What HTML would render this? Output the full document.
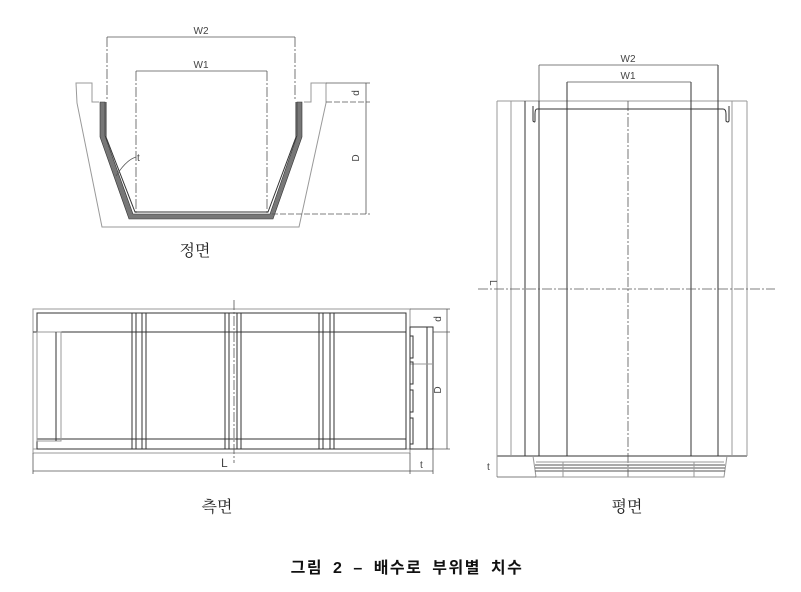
<!DOCTYPE html>
<html><head><meta charset="utf-8"><style>
html,body{margin:0;padding:0;background:#fff;}
svg{display:block;}
text{font-family:"Liberation Sans","Noto Sans CJK KR",sans-serif;}
.k{stroke:#333;stroke-width:1;fill:none;}
.g{stroke:#999;stroke-width:1;fill:none;}
.dd{stroke:#555;stroke-width:0.8;fill:none;stroke-dasharray:10 2 2 2;}
.dim{stroke:#555;stroke-width:0.8;fill:none;}
.lbl{font-size:10px;fill:#444;}
.ser{font-family:"Liberation Serif","Noto Serif CJK SC",serif;font-size:16px;fill:#222;}
</style></head><body>
<svg width="801" height="592" viewBox="0 0 801 592" xmlns="http://www.w3.org/2000/svg">
<!-- FRONT VIEW -->
<path class="g" d="M99,102 L92,102 L92,83 L76,83 L77,103 L102,227 L299,227 L326,103 L326,83 L311,83 L311,102 L304,102"/>
<path d="M100,102 L100,137 L129,219 L273,219 L302,137 L302,102 L297,102 L297,136 L270,214 L133,214 L105,136 L105,102 Z" fill="#777" stroke="#333" stroke-width="0.6"/>
<path class="k" d="M106,102 L106,137 L135,212 L268,212 L296,137 L296,102" stroke-width="0.6"/>
<!-- dims front -->
<line class="dim" x1="107" y1="37" x2="295" y2="37"/>
<line class="dd" x1="107" y1="37" x2="107" y2="100"/>
<line class="dd" x1="295" y1="37" x2="295" y2="100"/>
<text class="lbl" x="201" y="34" text-anchor="middle">W2</text>
<line class="dim" x1="136" y1="71" x2="267" y2="71"/>
<line class="dd" x1="136" y1="71" x2="136" y2="214"/>
<line class="dd" x1="267" y1="71" x2="267" y2="214"/>
<text class="lbl" x="201" y="68" text-anchor="middle">W1</text>
<line class="dim" x1="326" y1="83" x2="370" y2="83"/>
<line class="dim" x1="326" y1="102" x2="370" y2="102" stroke-dasharray="6 2"/>
<line class="dim" x1="272" y1="214" x2="370" y2="214" stroke-dasharray="6 2"/>
<line class="dim" x1="366" y1="83" x2="366" y2="214"/>
<text class="lbl" transform="translate(359,93) rotate(-90)" text-anchor="middle">d</text>
<text class="lbl" transform="translate(359,158) rotate(-90)" text-anchor="middle">D</text>
<path class="dim" d="M116,176 Q126,160 136,157"/>
<text class="lbl" x="137" y="161">t</text>
<text class="ser" x="195" y="256" text-anchor="middle">정면</text>

<!-- SIDE VIEW -->
<rect class="g" x="33" y="309" width="377" height="144"/>
<line class="g" x1="33" y1="449" x2="410" y2="449"/>
<rect class="k" x="37" y="313" width="369" height="136"/>
<line class="k" x1="33" y1="332" x2="406" y2="332"/>
<line class="k" x1="37" y1="439" x2="406" y2="439"/>
<rect class="g" x="37" y="332" width="24" height="109"/>
<line class="k" x1="56" y1="332" x2="56" y2="441"/>
<g class="k">
<line x1="132" y1="313" x2="132" y2="449"/><line x1="136" y1="313" x2="136" y2="449"/>
<line x1="142" y1="313" x2="142" y2="449"/><line x1="146" y1="313" x2="146" y2="449"/>
<line x1="225" y1="313" x2="225" y2="449"/><line x1="229" y1="313" x2="229" y2="449"/>
<line x1="237" y1="313" x2="237" y2="449"/><line x1="241" y1="313" x2="241" y2="449"/>
<line x1="319" y1="313" x2="319" y2="449"/><line x1="323" y1="313" x2="323" y2="449"/>
<line x1="330" y1="313" x2="330" y2="449"/><line x1="334" y1="313" x2="334" y2="449"/>
</g>
<line class="dd" x1="234" y1="300" x2="234" y2="463" stroke="#333"/>
<rect class="k" x="410" y="327" width="23" height="122"/>
<line class="k" x1="427" y1="327" x2="427" y2="449"/>
<line class="g" x1="410" y1="364" x2="433" y2="364"/>
<g class="k"><rect x="410" y="336" width="3" height="22"/><rect x="410" y="362" width="3" height="22"/><rect x="410" y="390" width="3" height="22"/><rect x="410" y="418" width="3" height="26"/></g>
<line class="dim" x1="410" y1="309" x2="450" y2="309"/>
<line class="dim" x1="433" y1="332" x2="450" y2="332"/>
<line class="dim" x1="433" y1="449" x2="450" y2="449"/>
<line class="dim" x1="447" y1="309" x2="447" y2="449"/>
<text class="lbl" transform="translate(441,319) rotate(-90)" text-anchor="middle">d</text>
<text class="lbl" transform="translate(441,390) rotate(-90)" text-anchor="middle">D</text>
<line class="dim" x1="33" y1="453" x2="33" y2="474"/>
<line class="dim" x1="410" y1="453" x2="410" y2="474"/>
<line class="dim" x1="433" y1="449" x2="433" y2="474"/>
<line class="dim" x1="33" y1="471" x2="433" y2="471"/>
<text x="221" y="467" style="font-size:12px;fill:#444">L</text>
<text class="lbl" x="420" y="468">t</text>
<text class="ser" x="217" y="512" text-anchor="middle">측면</text>

<!-- PLAN VIEW -->
<line class="g" x1="497" y1="101" x2="747" y2="101" stroke="#555"/>
<line class="k" x1="497" y1="456" x2="747" y2="456"/>
<g class="g"><line x1="497" y1="101" x2="497" y2="477"/><line x1="511" y1="101" x2="511" y2="456"/><line x1="747" y1="101" x2="747" y2="456"/><line x1="732" y1="101" x2="732" y2="456"/></g>
<g class="k"><line x1="525" y1="101" x2="525" y2="456"/><line x1="539" y1="101" x2="539" y2="456"/><line x1="567" y1="82" x2="567" y2="456"/><line x1="691" y1="82" x2="691" y2="456"/><line x1="718" y1="65" x2="718" y2="456"/></g>
<line class="dim" x1="539" y1="65" x2="539" y2="101"/>
<line class="dd" x1="628" y1="101" x2="628" y2="477" stroke="#333"/>
<path class="k" d="M539,109 L537,109 Q535,109 535,114 L535,121 Q535,123 533,121 L533,106 M537,109 L723,109 Q726,109 726,114 L726,121 Q728,123 729,121 L729,106"/>
<line class="dim" x1="539" y1="65" x2="718" y2="65"/>
<text class="lbl" x="628" y="62" text-anchor="middle">W2</text>
<line class="dim" x1="567" y1="82" x2="691" y2="82"/>
<text class="lbl" x="628" y="79" text-anchor="middle">W1</text>
<line class="dd" x1="478" y1="289" x2="775" y2="289"/>
<text class="lbl" transform="translate(490,280) rotate(90)">L</text>
<path class="g" d="M533,456 L536,477 L724,477 L727,456"/>
<g stroke="#555" stroke-width="1"><line x1="535" y1="465" x2="725" y2="465"/><line x1="535" y1="468" x2="725" y2="468"/><line x1="535" y1="471" x2="725" y2="471"/></g>
<line class="g" x1="536" y1="462" x2="724" y2="462"/>
<line class="g" x1="563" y1="462" x2="563" y2="477"/><line class="g" x1="694" y1="462" x2="694" y2="477"/>
<line class="dim" x1="497" y1="477" x2="536" y2="477"/>
<text class="lbl" x="487" y="470">t</text>
<text class="ser" x="627" y="512" text-anchor="middle">평면</text>

<text x="407" y="573" text-anchor="middle" style="font-size:16px;font-weight:bold;fill:#111;letter-spacing:1.5px;word-spacing:4px">그림 2 – 배수로 부위별 치수</text>
</svg>
</body></html>
